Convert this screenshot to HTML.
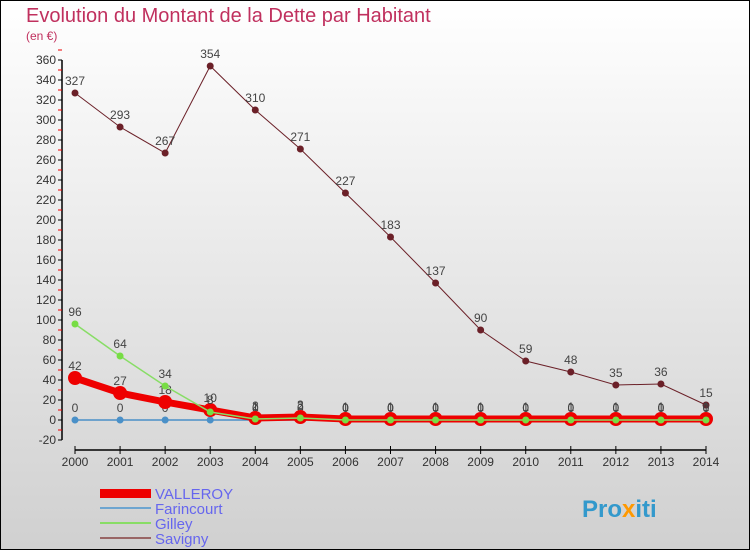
<!DOCTYPE html>
<html><head><meta charset="utf-8"><style>
body{margin:0;width:750px;height:550px;overflow:hidden;font-family:"Liberation Sans",sans-serif}
svg{display:block}
</style></head><body>
<svg width="750" height="550">
<defs><linearGradient id="bg" x1="0" y1="0" x2="0" y2="1"><stop offset="0" stop-color="#ffffff"/><stop offset="1" stop-color="#d0d0d0"/></linearGradient></defs>
<rect x="0.5" y="0.5" width="749" height="549" fill="url(#bg)" stroke="#000"/>
<text x="26" y="22" font-size="20" fill="#c0305e">Evolution du Montant de la Dette par Habitant</text>
<text x="26" y="40" font-size="12" fill="#c0305e">(en €)</text>
<g id="axes"></g><g id="series"></g>
<g>
<rect x="100" y="489" width="51" height="9" fill="#ee0000"/>
<text x="155" y="499" font-size="15" fill="#6666ee">VALLEROY</text>
<rect x="100" y="507" width="51" height="2" fill="#6ea5d0"/>
<text x="155" y="514" font-size="15" fill="#6666ee">Farincourt</text>
<rect x="100" y="522" width="51" height="2" fill="#88dd66"/>
<text x="155" y="529" font-size="15" fill="#6666ee">Gilley</text>
<rect x="100" y="537" width="51" height="2" fill="#996666"/>
<text x="155" y="544" font-size="15" fill="#6666ee">Savigny</text>
</g>
<text x="582" y="517" font-size="24" font-weight="bold" fill="#3399cc">Pro<tspan fill="#ff9900">x</tspan>iti</text>
</svg>
<script>
const years=[2000,2001,2002,2003,2004,2005,2006,2007,2008,2009,2010,2011,2012,2013,2014];
const valleroy=[42,27,18,10,2,3,1,1,1,1,1,1,1,1,1];
const farincourt=[0,0,0,0,0,0,0,0,0,0,0,0,0,0,0];
const gilley=[96,64,34,8,1,2,0,0,0,0,0,0,0,0,0];
const savigny=[327,293,267,354,310,271,227,183,137,90,59,48,35,36,15];
const yTicks=[-20,0,20,40,60,80,100,120,140,160,180,200,220,240,260,280,300,320,340,360];
const NS="http://www.w3.org/2000/svg";
const X=i=>75+i*(706-75)/(years.length-1);
const Y=v=>420-v;
function mk(tag,at,parent){const e=document.createElementNS(NS,tag);for(const k in at)e.setAttribute(k,at[k]);parent.appendChild(e);return e;}
const ax=document.getElementById('axes');
let a=mk('line',{x1:62,y1:Y(360),x2:62,y2:Y(-20),stroke:'#000','stroke-width':1.5},ax);


yTicks.forEach(t=>{
 let l=mk('line',{x1:58,y1:Y(t),x2:62,y2:Y(t),stroke:'#000'},ax);
 
 
 let r=mk('line',{x1:58,y1:Y(t+10),x2:62,y2:Y(t+10),stroke:'#e00'},ax);
 
 
 let tx=mk('text',{x:56,y:Y(t)+4,'text-anchor':'end','font-size':12,fill:'#333'},ax);
 tx.textContent=t;
 
 
});
let xa=mk('line',{x1:75,y1:450,x2:706,y2:450,stroke:'#000','stroke-width':1.5},ax);


years.forEach((yr,i)=>{
 let l=mk('line',{x1:X(i),y1:446,x2:X(i),y2:454,stroke:'#000'},ax);
 
 
 let tx=mk('text',{x:X(i),y:466,'text-anchor':'middle','font-size':12,fill:'#333'},ax);
 tx.textContent=yr;
 
 
});
const sg=document.getElementById('series');
function series(name,vals,color,w,r,fill,stroke){
 const g=mk('g',{},sg);
 
 
 let p=mk('polyline',{points:vals.map((v,i)=>X(i)+','+Y(v)).join(' '),fill:'none',stroke:color,'stroke-width':w},g);
 
 
 vals.forEach((v,i)=>{
  let c=mk('circle',{cx:X(i),cy:Y(v),r:r,fill:fill,stroke:stroke,'stroke-width':stroke?3:0},g);
  
  
  let t=mk('text',{x:X(i),y:Y(v)-8,'text-anchor':'middle','font-size':12,fill:'#444'},g);
  t.textContent=v;
  
  
 });
}
series('savigny',savigny,'#6b2028',1,3.5,'#6b2028',null);
series('farincourt',farincourt,'#4a90c8',1.5,3.5,'#4a90c8',null);
series('valleroy',valleroy,'#ee0000',7,7,'#ee0000',null);
series('gilley',gilley,'#88dd66',1.5,3.5,'#77dd44',null);
</script>
</body></html>
